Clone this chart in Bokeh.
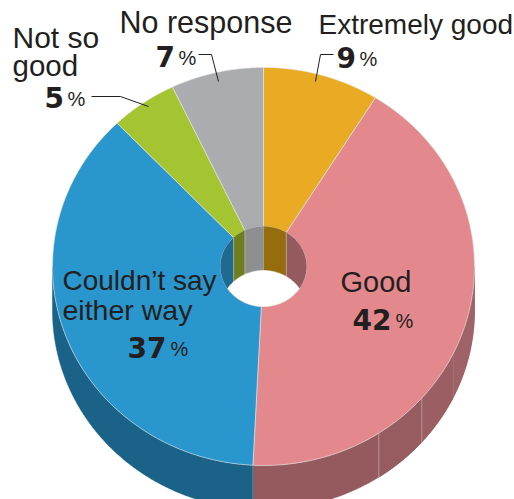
import numpy as np
from bokeh.plotting import figure
from bokeh.models import Range1d
from bokeh.embed import file_html
from bokeh.resources import INLINE
from bokeh.core.properties import value

categories = ["Extremely good", "Good", "Couldn't say either way", "Not so good", "No response"]
shares = [8.9, 41.9, 37.0, 5.1, 7.1]
share_labels = [9, 42, 37, 5, 7]
top_colors = ["#e9ab23", "#e3898d", "#2996cd", "#a5c432", "#abacb0"]
wall_colors = ["#966d0c", "#945a5e", "#1a6288", "#6f7d1e", "#8e8f92"]
inner_wall_colors = ["#966d0c", "#945a5e", "#1f6a90", "#6f7d1e", "#8e8f92"]
seam_shares = [32.2, 36.5, 40.8]
seam_colors = ["#a9797c", "#c4a3a5", "#c4a3a5"]
band_colors = ["#9f6367", "#9b5f63", "#975c60"]

W, H = 514, 499
CX, CY, RX, RY = 263.0, 266.0, 211.0, 199.0
HRX, HRY = 43.0, 40.0
DEPTH = 44.0
INK = "#231f20"

p = figure(width=W, height=H, output_backend="svg", toolbar_location=None,
           x_range=Range1d(0, W), y_range=Range1d(H, 0), min_border=0,
           outline_line_color=None, background_fill_color="white")
p.axis.visible = False
p.grid.visible = False

def pt(a, rx, ry, dy=0.0):
    return CX + rx * np.sin(a), CY - ry * np.cos(a) + dy

total = sum(shares)
cum = np.cumsum([0] + shares) / total * 2 * np.pi
starts, ends = cum[:-1], cum[1:]

def wall(a0, a1, c):
    a = np.linspace(a0, a1, 160)
    x1, y1 = pt(a, RX, RY)
    x2, y2 = pt(a[::-1], RX, RY, DEPTH)
    p.patch(np.r_[x1, x2], np.r_[y1, y2], fill_color=c, line_color=c, line_width=0.5)

# outer wall (front half only)
for s, e, c in zip(starts, ends, wall_colors):
    a0, a1 = max(s, np.pi / 2), min(e, 3 * np.pi / 2)
    if a1 > a0:
        wall(a0, a1, c)
# slightly lighter bands of the pink wall, between its seams
band_edges = [np.pi / 2] + [v / total * 2 * np.pi for v in seam_shares]
for lo, hi, c in zip(band_edges[:-1], band_edges[1:], band_colors):
    wall(lo, hi, c)
# seams
for v, c in zip(seam_shares, seam_colors):
    a = v / total * 2 * np.pi
    x, y = pt(a, RX, RY)
    _, y2 = pt(a, RX, RY, DEPTH)
    p.line([x, x], [y, y2], line_color=c, line_width=0.8)
a = (shares[0] + shares[1]) / total * 2 * np.pi
x, y = pt(a, RX, RY)
p.line([x, x], [y, y + DEPTH], line_color="#7d93a3", line_width=0.7)

# top face wedges
for s, e, c in zip(starts, ends, top_colors):
    a = np.linspace(s, e, 160)
    xo, yo = pt(a, RX, RY)
    xi, yi = pt(a[::-1], HRX, HRY)
    p.patch(np.r_[xo, xi], np.r_[yo, yi], fill_color=c, line_color="#e8e8e8", line_width=0.6)

# hole: far inner wall per slice, a strip between the top and bottom of the hole ellipse
for s, e, c in zip(starts, ends, inner_wall_colors):
    for lo, hi in [(s, min(e, np.pi / 2)), (max(s, 3 * np.pi / 2), e)]:
        if hi > lo:
            b = np.linspace(lo, hi, 60)
            x1, y1 = pt(b, HRX, HRY)
            x2, y2 = pt((np.pi - b)[::-1], HRX, HRY)
            p.patch(np.r_[x1, x2], np.r_[y1, y2], fill_color=c, line_color=c, line_width=0.3)
    if s >= 3 * np.pi / 2 or s < np.pi / 2:
        x, y = pt(s, HRX, HRY)
        p.line([x, x], [y, y + DEPTH], line_color="#c9c2b8", line_width=0.6)

# white floor lens of the hole
t0 = np.arccos(DEPTH / 2 / HRY)
b = np.linspace(np.pi - t0, np.pi + t0, 100)
xa, ya = pt(b, HRX, HRY)
c_ang = np.linspace(-t0, t0, 100)
xb, yb = pt(c_ang, HRX, HRY, DEPTH)
p.patch(np.r_[xa, xb], np.r_[ya, yb], fill_color="white", line_color="white", line_width=0.5)

# leader lines
leaders_x = [[91, 120, 148], [198, 211, 218], [333, 320, 315]]
leaders_y = [[96, 96, 106], [54, 54, 81], [54, 54, 81]]
p.multi_line(leaders_x, leaders_y, line_color=INK, line_width=1)

# category texts
names = ["Extremely good", "Good", "Couldn\u2019t say", "either way", "Not so", "good", "No response"]
name_x = [318, 340, 62, 62, 12, 12, 119]
name_y = [24, 281, 280, 309, 37, 65, 21]
name_px = [28, 29, 28, 28.5, 30, 29.5, 30.5]
for nx, ny, n, s in zip(name_x, name_y, names, name_px):
    p.text([nx], [ny], text=[n], text_font=value("Liberation Sans"), text_font_size=f"{s}px",
           text_color=INK, text_baseline="middle", text_align="left")

# numbers
digits = [f"{v}" for v in share_labels]
digit_x = [336, 352, 127, 44, 155]
digit_y = [57, 319, 347, 97, 56]
for dx, dy, d in zip(digit_x, digit_y, digits):
    p.text([dx], [dy], text=[d], text_font=value("DejaVu Sans"), text_font_size="28px",
           text_font_style="bold", text_color=INK, text_baseline="middle", text_align="left")
    adv = 20 * len(d) + 3
    p.text([dx + adv], [dy + 1], text=["%"], text_font=value("Liberation Sans"), text_font_size="20px",
           text_color=INK, text_baseline="middle", text_align="left")

open("out.html", "w").write(file_html(p, INLINE))
